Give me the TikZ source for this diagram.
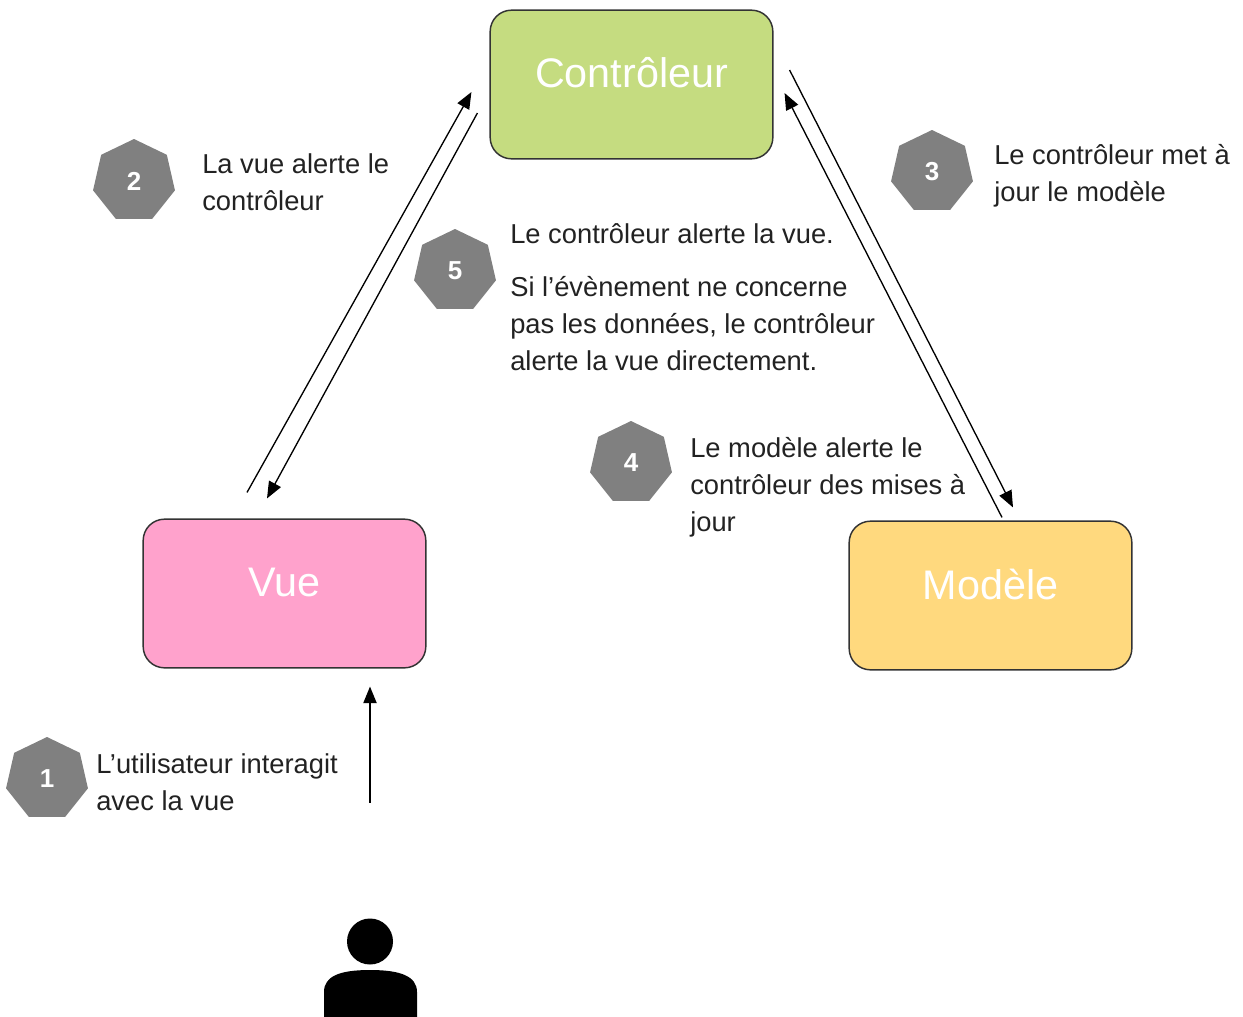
\documentclass[tikz,border=0pt]{standalone}
\usepackage{fontspec}
\setmainfont{Liberation Sans}
\usepackage{xcolor}
\usetikzlibrary{calc,
	positioning,
	shapes,
	arrows.meta}

\definecolor{ctrlgreen}{HTML}{C5DC80}
\definecolor{vuepink}{HTML}{FFA2CC}
\definecolor{modelyellow}{HTML}{FFD97E}
\definecolor{badgegray}{HTML}{808080}
\definecolor{edgegray}{HTML}{333333}
\definecolor{textgray}{HTML}{222222}

\tikzset{
	mvcbox/.style={draw=edgegray, line width=1.1pt, rounded corners=16pt, minimum width=212pt, minimum height=111.5pt},
	boxtitle/.style={text=white, inner sep=0pt, font=\fontsize{31}{36}\selectfont},
	badge/.style={regular polygon, regular polygon sides=7, fill=badgegray, minimum size=63pt, inner sep=0pt, text=white, font=\bfseries\fontsize{19.5}{22}\selectfont},
	note/.style={anchor=base west, align=left, inner sep=0pt, text=textgray, font=\fontsize{20.5}{27.75}\selectfont},
	flow/.style={line width=1pt, -{Triangle[length=12.5pt,width=10pt]}}
}

\begin{document}
\begin{tikzpicture}[x=0.75pt, y=-0.75pt]
                            \useasboundingbox (0,0) rectangle (1243,1017);
                            \node (ctrl) [mvcbox, fill=ctrlgreen] at (631.5,84.5) {};
                            \node (ctrltitle) [boxtitle] at ([yshift=9pt]ctrl.center) {Contrôleur};
                            \node (vue) [mvcbox, fill=vuepink] at (284.5,593.5) {};
                            \node (vuetitle) [boxtitle] at ([yshift=8pt]vue.center) {Vue};
                            \node (model) [mvcbox, fill=modelyellow] at (990.5,595.5) {};
                            \node (modeltitle) [boxtitle] at ([yshift=8pt]model.center) {Modèle};
                            \node (user) [circle, fill=black, minimum size=34.5pt, inner sep=0pt] at (370,941.5) {};
                            \fill[black] (324,1017) -- (324,992) .. controls (324,976) and (340,970) .. (370,970) .. controls (400,970) and (417,976) .. (417,992) -- (417,1017) -- cycle;
                            \node (b1) [badge] at (47,779) {1};
                            \node (b2) [badge] at (134,181) {2};
                            \node (b3) [badge] at (932,172) {3};
                            \node (b4) [badge] at (631,463) {4};
                            \node (b5) [badge] at (455,271) {5};
                            \node (n1) [note] at (96,810) {L’utilisateur interagit\\avec la vue};
                            \node (n2) [note] at (202,210) {La vue alerte le\\contrôleur};
                            \node (n3) [note] at (994,201) {Le contrôleur met à\\jour le modèle};
                            \node (n4) [note] at (690,531) {Le modèle alerte le\\contrôleur des mises à\\jour};
                            \node (n5) [note] at (510,243) {Le contrôleur alerte la vue.};
                            \node (n5b) [note, font=\fontsize{20.5}{27.4}\selectfont] at (510,370) {Si l’évènement ne concerne\\pas les données, le contrôleur\\alerte la vue directement.};
                            \draw[flow] ($(user.north)+(0,-115.5)$) -- ($(vue.south)+(85.5,18)$);
                            \draw[flow] ($(vue.north)+(-37.5,-26)$) -- ($(ctrl.west)+(-18,7.5)$);
                            \draw[flow] ($(ctrl.west)+(-12,28.5)$) -- ($(vue.north)+(-17.5,-20)$);
                            \draw[flow] ($(ctrl.east)+(16,-14.5)$) -- ($(model.north)+(22.5,-13)$);
                            \draw[flow] ($(model.north)+(11.5,-3)$) -- ($(ctrl.east)+(11,8.5)$);
                        \end{tikzpicture}
\end{document}
